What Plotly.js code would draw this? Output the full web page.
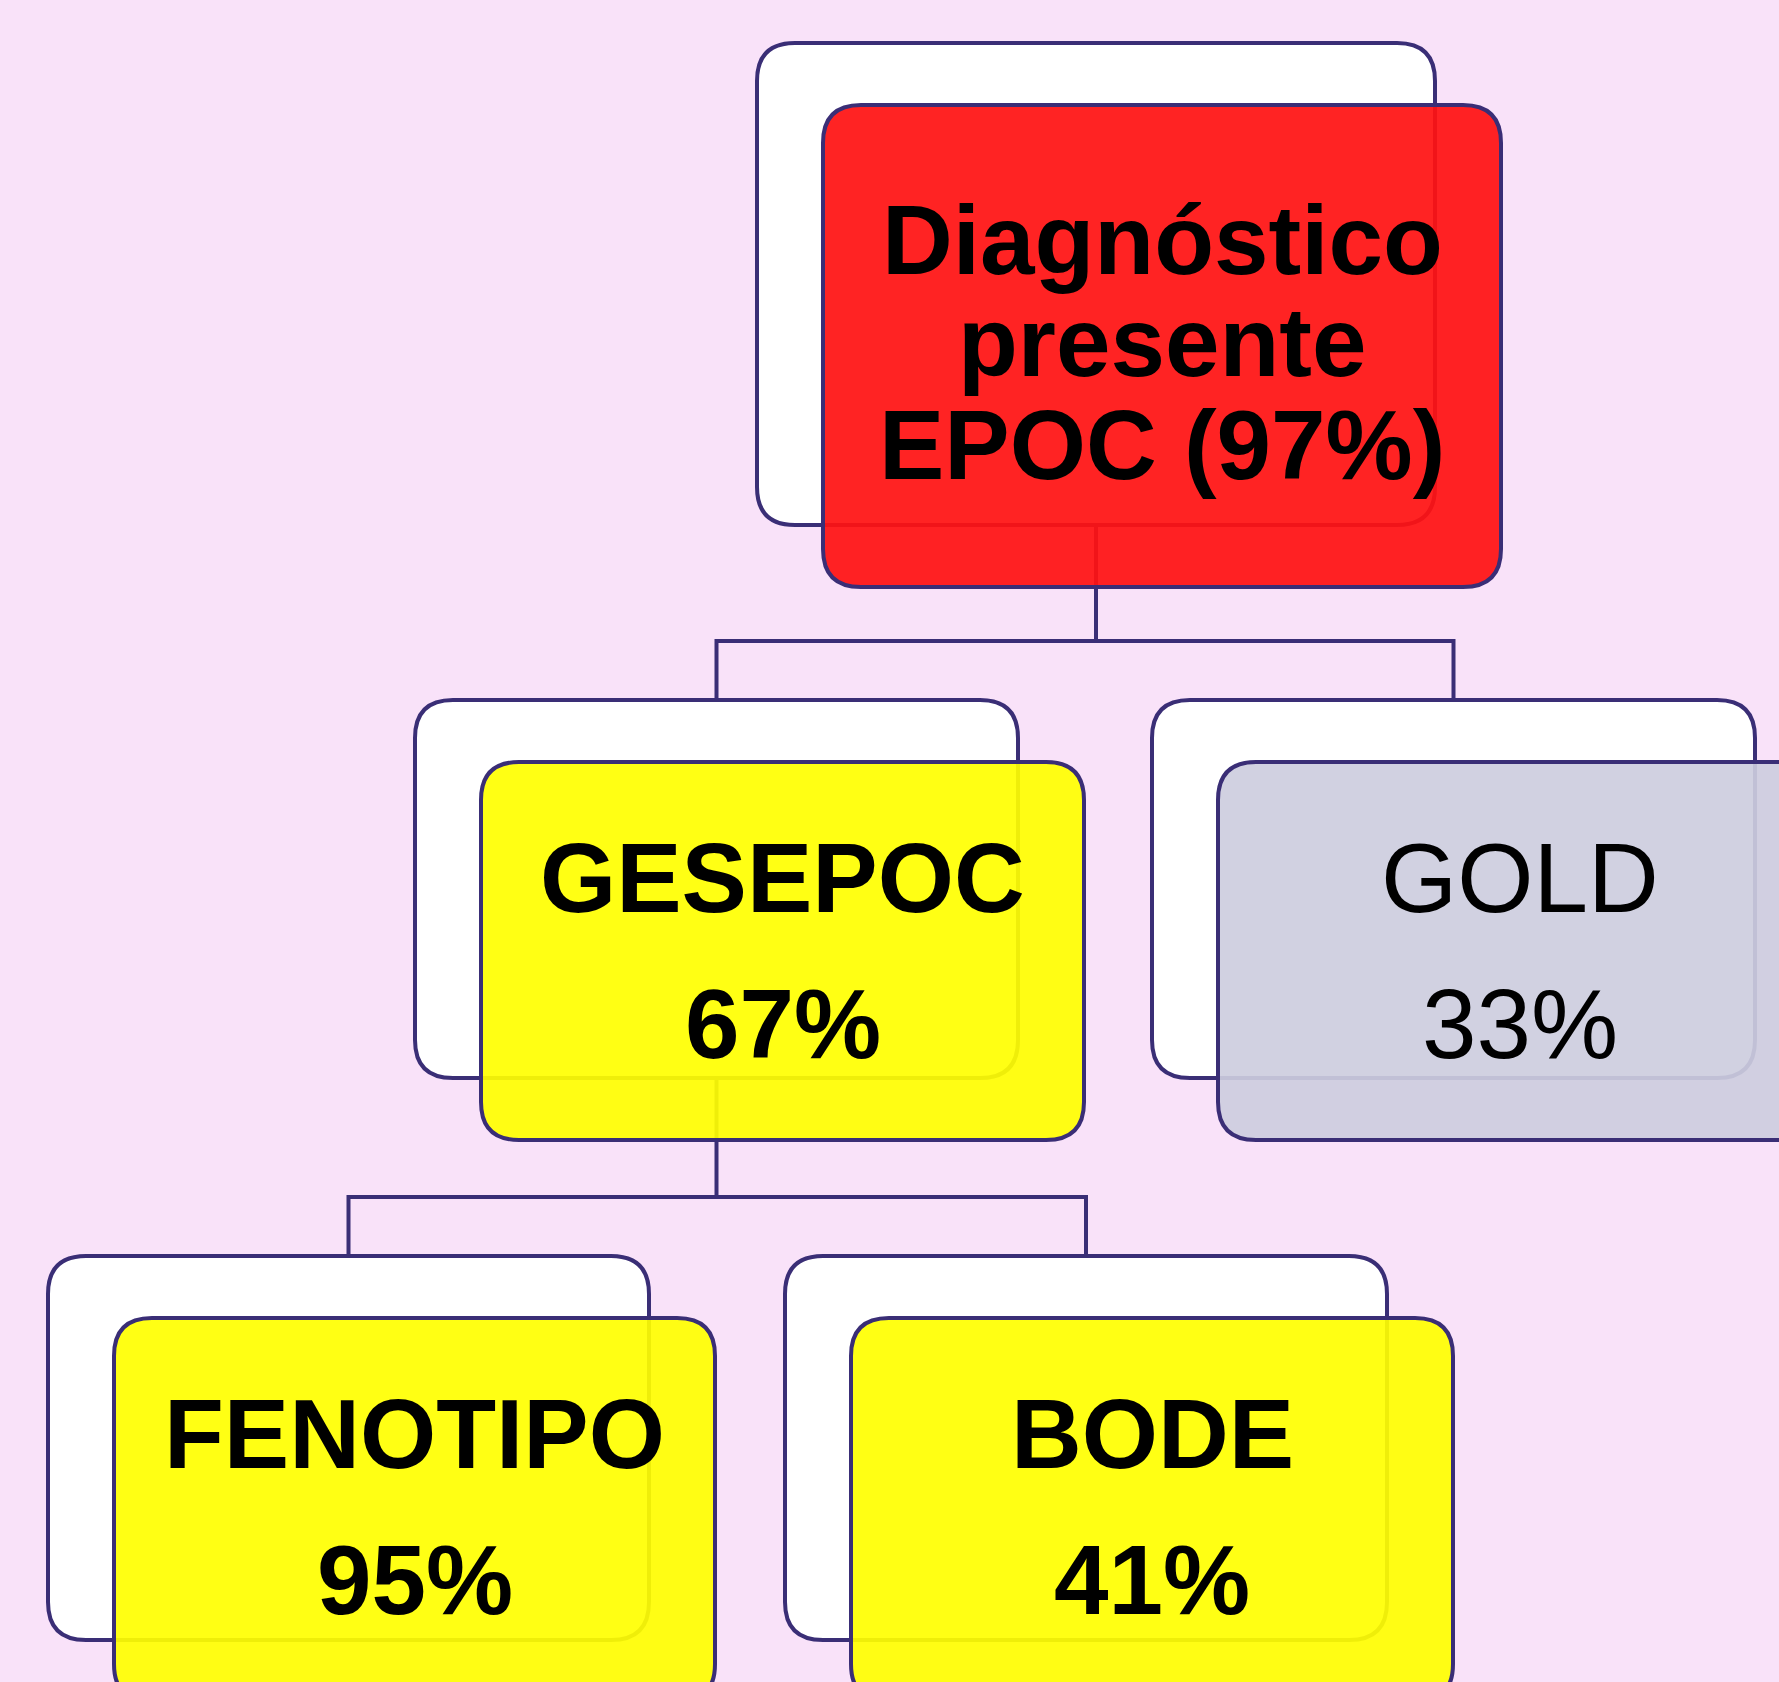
<!DOCTYPE html>
<html><head><meta charset="utf-8">
<script src="https://cdn.plot.ly/plotly-3.0.1.min.js"></script>
<style>html,body{margin:0;padding:0;background:#f9e2f9;overflow:hidden}</style>
</head><body><div id="chart" style="width:1779px;height:1682px"></div>
<script>
// ---- data ----
const nodeIds = ['root', 'gesepoc', 'gold', 'fenotipo', 'bode'];
const nodeNames = [['Diagnóstico', 'presente', 'EPOC'], ['GESEPOC'], ['GOLD'], ['FENOTIPO'], ['BODE']];
const nodePercents = [97, 67, 33, 95, 41];
const nodeParents = [null, 'root', 'root', 'gesepoc', 'gesepoc'];

// ---- styling / layout geometry ----
const nodeFills = ['rgba(255,18,18,0.93)', 'rgba(255,255,0,0.92)', 'rgba(205,205,222,0.92)', 'rgba(255,255,0,0.92)', 'rgba(255,255,0,0.92)'];
const nodeBold = [true, true, false, true, true];
// back (white) box: left, top, width, height
const backBox = {
  root: [757, 43, 678, 482],
  gesepoc: [415, 700, 603, 378],
  gold: [1152, 700, 603, 378],
  fenotipo: [48, 1256, 601, 384],
  bode: [785, 1256, 602, 384]
};
const frontDX = 66, frontDY = 62, R = 38;
const LINE = 'rgb(58,46,118)';
const LW = 4;
const W = 1779, H = 1682;

function rr(x0, y0, x1, y1, r) {
  return `M${x0 + r},${y0} L${x1 - r},${y0} Q${x1},${y0} ${x1},${y0 + r} L${x1},${y1 - r} Q${x1},${y1} ${x1 - r},${y1} L${x0 + r},${y1} Q${x0},${y1} ${x0},${y1 - r} L${x0},${y0 + r} Q${x0},${y0} ${x0 + r},${y0} Z`;
}

const shapes = [];
const annotations = [];

// white back boxes
nodeIds.forEach(id => {
  const [l, t, w, h] = backBox[id];
  shapes.push({type: 'path', xref: 'x', yref: 'y', path: rr(l, t, l + w, t + h, R),
    fillcolor: 'white', line: {color: LINE, width: LW}});
});

// connectors
nodeIds.forEach(pid => {
  const kids = nodeIds.filter((id, i) => nodeParents[i] === pid);
  if (!kids.length) return;
  const [pl, pt, pw, ph] = backBox[pid];
  const px = pl + pw / 2, py = pt + ph;
  const ctop = backBox[kids[0]][1];
  const midY = ctop - 59;
  const kxs = kids.map(k => backBox[k][0] + backBox[k][2] / 2);
  shapes.push({type: 'path', xref: 'x', yref: 'y', path: `M${px},${py} L${px},${midY}`, line: {color: LINE, width: LW}});
  const xl = Math.min(...kxs), xr = Math.max(...kxs);
  shapes.push({type: 'path', xref: 'x', yref: 'y', path: `M${xl},${ctop} L${xl},${midY} L${xr},${midY} L${xr},${ctop}`, line: {color: LINE, width: LW}});
});

// colored front boxes + text
nodeIds.forEach((id, i) => {
  const [l, t, w, h] = backBox[id];
  const x0 = l + frontDX, y0 = t + frontDY, x1 = x0 + w, y1 = y0 + h;
  shapes.push({type: 'path', xref: 'x', yref: 'y', path: rr(x0, y0, x1, y1, R),
    fillcolor: nodeFills[i], line: {color: LINE, width: LW}});
  const cx = (x0 + x1) / 2;
  const wrap = s => nodeBold[i] ? '<b>' + s + '</b>' : s;
  let lines, ys, size;
  if (id === 'root') {
    lines = [nodeNames[i][0], nodeNames[i][1], nodeNames[i][2] + ' (' + nodePercents[i] + '%)'];
    const cy = (y0 + y1) / 2;
    ys = [cy - 106, cy - 4, cy + 99];
    size = 98;
  } else {
    lines = [nodeNames[i][0], nodePercents[i] + '%'];
    ys = [y0 + 116, y0 + 262];
    size = 98;
  }
  lines.forEach((s, j) => annotations.push({
    xref: 'x', yref: 'y', x: cx, y: ys[j], text: wrap(s), showarrow: false,
    xanchor: 'center', yanchor: 'middle',
    font: {family: 'Liberation Sans, Arial, sans-serif', size: size, color: '#000'}
  }));
});

const layout = {
  width: W, height: H,
  margin: {l: 0, r: 0, t: 0, b: 0},
  paper_bgcolor: '#f9e2f9', plot_bgcolor: '#f9e2f9',
  xaxis: {range: [0, W], visible: false, fixedrange: true},
  yaxis: {range: [H, 0], visible: false, fixedrange: true},
  showlegend: false,
  shapes: shapes,
  annotations: annotations
};
Plotly.newPlot('chart', [{type: 'scatter', x: [], y: [], hoverinfo: 'skip'}], layout, {displayModeBar: false, staticPlot: true});
</script></body></html>
